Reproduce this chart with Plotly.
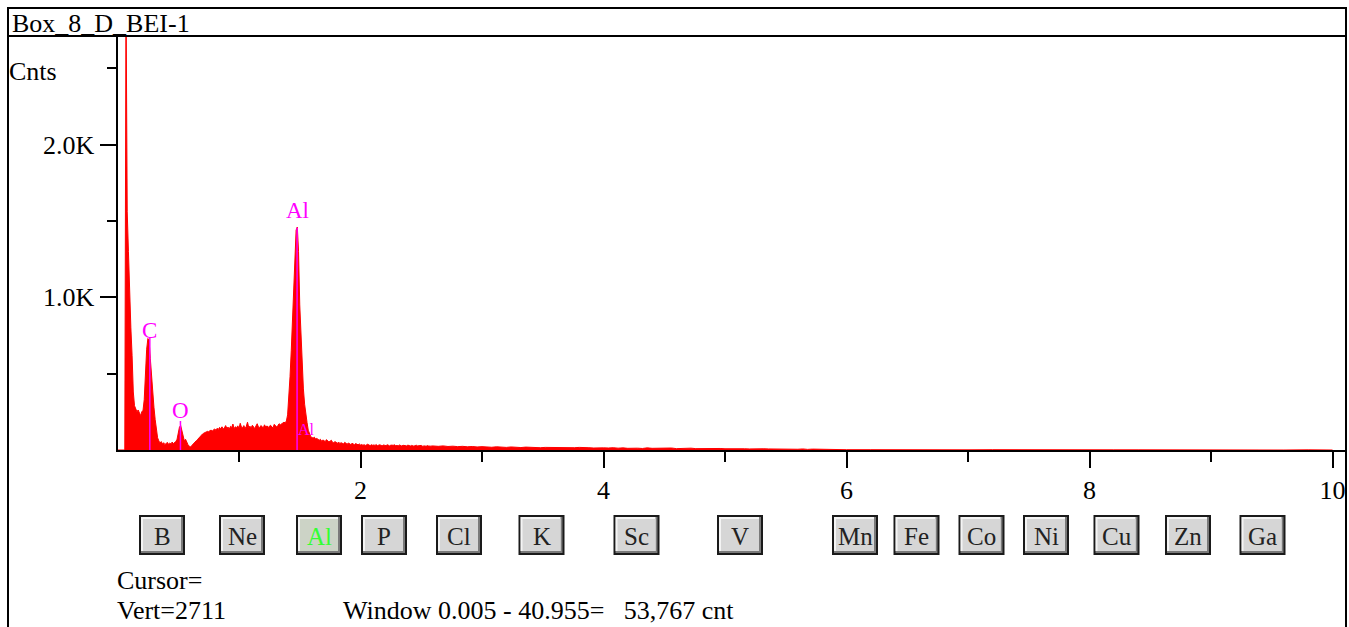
import plotly.graph_objects as go

W, H = 1349, 627

# ---------------- data ----------------
# counts per 0.01 keV channel, 0.00 - 2.59 keV
counts_low = [
    0, 0, 0, 0, 0, 0, 0, 3000, 1560, 1300,          # 0.00
    1000, 800, 620, 380, 290, 270, 250, 262, 240, 225,  # 0.10
    250, 260, 330, 520, 660, 730, 720, 600, 470, 360,   # 0.20
    280, 200, 120, 80, 60, 45, 55, 40, 48, 35,          # 0.30
    42, 50, 38, 45, 40, 52, 42, 48, 55, 70,             # 0.40
    110, 150, 160, 120, 90, 60, 70, 50, 35, 25,         # 0.50
    20, 28, 35, 45, 55, 62, 70, 80, 88, 95,             # 0.60
    105, 110, 112, 118, 122, 120, 126, 130, 125, 132,   # 0.70
    138, 130, 142, 135, 148, 140, 152, 138, 145, 160,   # 0.80
    142, 150, 136, 155, 148, 170, 140, 152, 145, 158,   # 0.90
    142, 175, 150, 146, 160, 140, 155, 182, 148, 156,   # 1.00
    145, 162, 150, 140, 158, 172, 150, 146, 160, 152,   # 1.10
    145, 165, 150, 158, 148, 155, 162, 150, 146, 168,   # 1.20
    155, 150, 160, 172, 165, 170, 176, 182, 178, 190,   # 1.30
    230, 330, 480, 650, 850, 1080, 1300, 1440, 1460, 1300,  # 1.40
    950, 720, 550, 400, 300, 220, 180, 130, 100, 88,    # 1.50
    82, 78, 84, 72, 76, 68, 64, 70, 58, 66,             # 1.60
    62, 55, 68, 60, 52, 58, 64, 50, 48, 55,             # 1.70
    46, 44, 52, 42, 48, 45, 40, 50, 43, 38,             # 1.80
    46, 41, 36, 44, 40, 35, 42, 37, 34, 40,             # 1.90
    33, 36, 31, 35, 30, 34, 38, 32, 29, 35,             # 2.00
    31, 33, 30, 36, 28, 32, 34, 30, 29, 33,             # 2.10
    31, 28, 35, 30, 27, 32, 29, 31, 34, 28,             # 2.20
    30, 27, 33, 29, 26, 31, 28, 30, 27, 32,             # 2.30
    29, 26, 30, 28, 25, 29, 31, 27, 28, 26,             # 2.40
    30, 25, 28, 27, 24, 29, 26, 28, 25, 27,             # 2.50
]
# counts every 0.04 keV, 2.60 - 6.00 keV
counts_mid = [
    26, 24, 27, 23, 25, 22, 24, 21, 23, 20, 22,
    20, 18, 21, 19, 17, 20, 18, 16, 19, 17, 18, 15, 17, 16, 18, 15, 14, 16, 15, 17, 14, 15, 13, 16, 14,
    13, 15, 12, 14, 11, 13, 12, 10, 14, 11, 12, 10, 11, 13, 9, 11, 10, 12, 9, 10, 8, 11, 9, 10, 8,
    9, 7, 10, 8, 7, 9, 6, 8, 7, 6, 8, 5, 7, 6, 5, 7, 4, 6, 5, 4, 6, 3, 4, 3, 2,
]
# counts every 0.2 keV, 6.20 - 10.00 keV
counts_high = [2, 1, 2, 1, 1, 2, 1, 1, 1, 0, 1, 1, 0, 1, 1, 0, 1, 0, 1, 0]

energy_low = [round(0.01 * i, 2) for i in range(len(counts_low))]
energy_mid = [round(2.60 + 0.04 * i, 2) for i in range(len(counts_mid))]
energy_high = [round(6.20 + 0.20 * i, 2) for i in range(len(counts_high))]

# element peak markers
peak_labels = ["C", "O", "Al"]
peak_energy = [0.266, 0.518, 1.478]
peak_height = [740, 190, 1456]
kb_label = "Al"
kb_energy = 1.557
kb_height = 85

vert_max = 2711
x_tickvals = [2, 4, 6, 8, 10]
x_ticktext = ["2", "4", "6", "8", "10"]
x_minor = [1, 3, 5, 7, 9]
y_tickvals = [1000, 2000]
y_ticktext = ["1.0K", "2.0K"]
y_minor = [500, 1500, 2500]

button_labels = ["B", "Ne", "Al", "P", "Cl", "K", "Sc", "V", "Mn", "Fe", "Co", "Ni", "Cu", "Zn", "Ga"]
active_button = "Al"

# ---------------- layout helpers (pixel -> paper) ----------------
def px(x):
    return x / W

def py(y):
    return 1 - y / H

SERIF = "Liberation Serif, Times New Roman, serif"
FS = 26
X0_PX, X_END_PX, KEV_PX = 117.5, 1346, 121.5
Y0_PX, YTOP_PX = 450, 36

energy = energy_low + energy_mid + energy_high
counts = counts_low + counts_mid + counts_high

fig = go.Figure()
fig.add_trace(go.Scatter(
    x=energy, y=counts, mode="lines",
    line=dict(color="#ff0000", width=1),
    fill="tozeroy", fillcolor="#ff0000",
    hoverinfo="skip", showlegend=False,
))

# marker lines
mx, my = [], []
for e, h in zip(peak_energy, peak_height):
    mx += [e, e, None]
    my += [0, h, None]
fig.add_trace(go.Scatter(
    x=mx, y=my, mode="lines", line=dict(color="#ff00ff", width=1.5),
    hoverinfo="skip", showlegend=False,
))

annotations = []
label_shift = {"C": 6, "O": 10, "Al": 17}
for lab, e, h in zip(peak_labels, peak_energy, peak_height):
    annotations.append(dict(
        x=e, y=h, xref="x", yref="y", text=lab, showarrow=False,
        yshift=label_shift[lab], font=dict(family=SERIF, size=23, color="#ff00ff"),
        xanchor="center", yanchor="middle",
    ))
annotations.append(dict(
    x=kb_energy, y=kb_height, xref="x", yref="y", text=kb_label, showarrow=False,
    yshift=8, font=dict(family=SERIF, size=16, color="#ff00ff"),
    xanchor="center", yanchor="middle",
))

# texts
def ptext(x, y, s, size=FS, anchor="left", color="black"):
    annotations.append(dict(
        x=px(x), y=py(y), xref="paper", yref="paper", text=s, showarrow=False,
        xanchor=anchor, yanchor="middle", font=dict(family=SERIF, size=size, color=color),
    ))

ptext(10, 23, "Box_8_D_BEI-1")
ptext(7, 71, "Cnts")
ptext(115, 580, "Cursor=")
ptext(115, 610, "Vert=2711")
ptext(341, 610, "Window 0.005 - 40.955=\u00a0\u00a0 53,767 cnt")

shapes = []
# frame
shapes.append(dict(type="rect", xref="paper", yref="paper",
                   x0=px(8), x1=px(1346), y0=py(8), y1=py(660),
                   line=dict(color="black", width=2)))
shapes.append(dict(type="line", xref="paper", yref="paper",
                   x0=px(8), x1=px(1346), y0=py(36), y1=py(36),
                   line=dict(color="black", width=2)))

# buttons
button_centers = [162, 242, 319, 384, 459, 541.5, 636.5, 740, 855, 916.5, 981.5, 1046, 1116.5, 1188, 1262.5]
BW, BT, BB = 46, 515, 555
for lab, cx in zip(button_labels, button_centers):
    l, r = cx - BW / 2, cx + BW / 2
    active = lab == active_button
    face = "#ccd3c6" if active else "#d6d6d6"
    shapes.append(dict(type="rect", xref="paper", yref="paper", x0=px(l), x1=px(r),
                       y0=py(BT), y1=py(BB), fillcolor="#1a1a1a", line=dict(width=0)))
    shapes.append(dict(type="rect", xref="paper", yref="paper", x0=px(l + 2), x1=px(r - 2),
                       y0=py(BT + 2), y1=py(BB - 2), fillcolor="#7a7a7a", line=dict(width=0)))
    shapes.append(dict(type="rect", xref="paper", yref="paper", x0=px(l + 2), x1=px(r - 4),
                       y0=py(BT + 2), y1=py(BB - 4), fillcolor="#f4f4f4", line=dict(width=0)))
    shapes.append(dict(type="rect", xref="paper", yref="paper", x0=px(l + 4), x1=px(r - 4),
                       y0=py(BT + 4), y1=py(BB - 4), fillcolor=face, line=dict(width=0)))
    ptext(cx, (BT + BB) / 2 + 1, lab, size=25, anchor="center",
          color="#33ff33" if active else "#222222")

fig.update_layout(
    width=W, height=H, autosize=False,
    margin=dict(l=0, r=0, t=0, b=0),
    paper_bgcolor="white", plot_bgcolor="white",
    showlegend=False,
    annotations=annotations, shapes=shapes,
    xaxis=dict(
        domain=[px(X0_PX), px(X_END_PX)],
        range=[0, (X_END_PX - X0_PX) / KEV_PX],
        showgrid=False, zeroline=False,
        showline=True, linecolor="black", linewidth=2,
        tickmode="array", tickvals=x_tickvals, ticktext=x_ticktext,
        ticks="outside", ticklen=16, tickwidth=2, tickcolor="black",
        tickfont=dict(family=SERIF, size=FS, color="black"),
        minor=dict(tickmode="array", tickvals=x_minor, ticks="outside",
                   ticklen=10, tickwidth=2, tickcolor="black", showgrid=False),
        fixedrange=True,
    ),
    yaxis=dict(
        domain=[py(Y0_PX), py(YTOP_PX)],
        range=[0, vert_max],
        showgrid=False, zeroline=False,
        showline=True, linecolor="black", linewidth=2,
        tickmode="array", tickvals=y_tickvals, ticktext=y_ticktext,
        ticks="outside", ticklen=16, tickwidth=2, tickcolor="black",
        tickfont=dict(family=SERIF, size=FS, color="black"),
        minor=dict(tickmode="array", tickvals=y_minor, ticks="outside",
                   ticklen=9, tickwidth=2, tickcolor="black", showgrid=False),
        fixedrange=True,
    ),
)

fig.write_html("out.html", config={"displayModeBar": False})

# remove the browser's default page margin so the figure sits at the top-left corner
with open("out.html", "r", encoding="utf-8") as f:
    html = f.read()
html = html.replace("<head>", "<head><style>html,body{margin:0;padding:0;overflow:hidden;}</style>", 1)
with open("out.html", "w", encoding="utf-8") as f:
    f.write(html)
